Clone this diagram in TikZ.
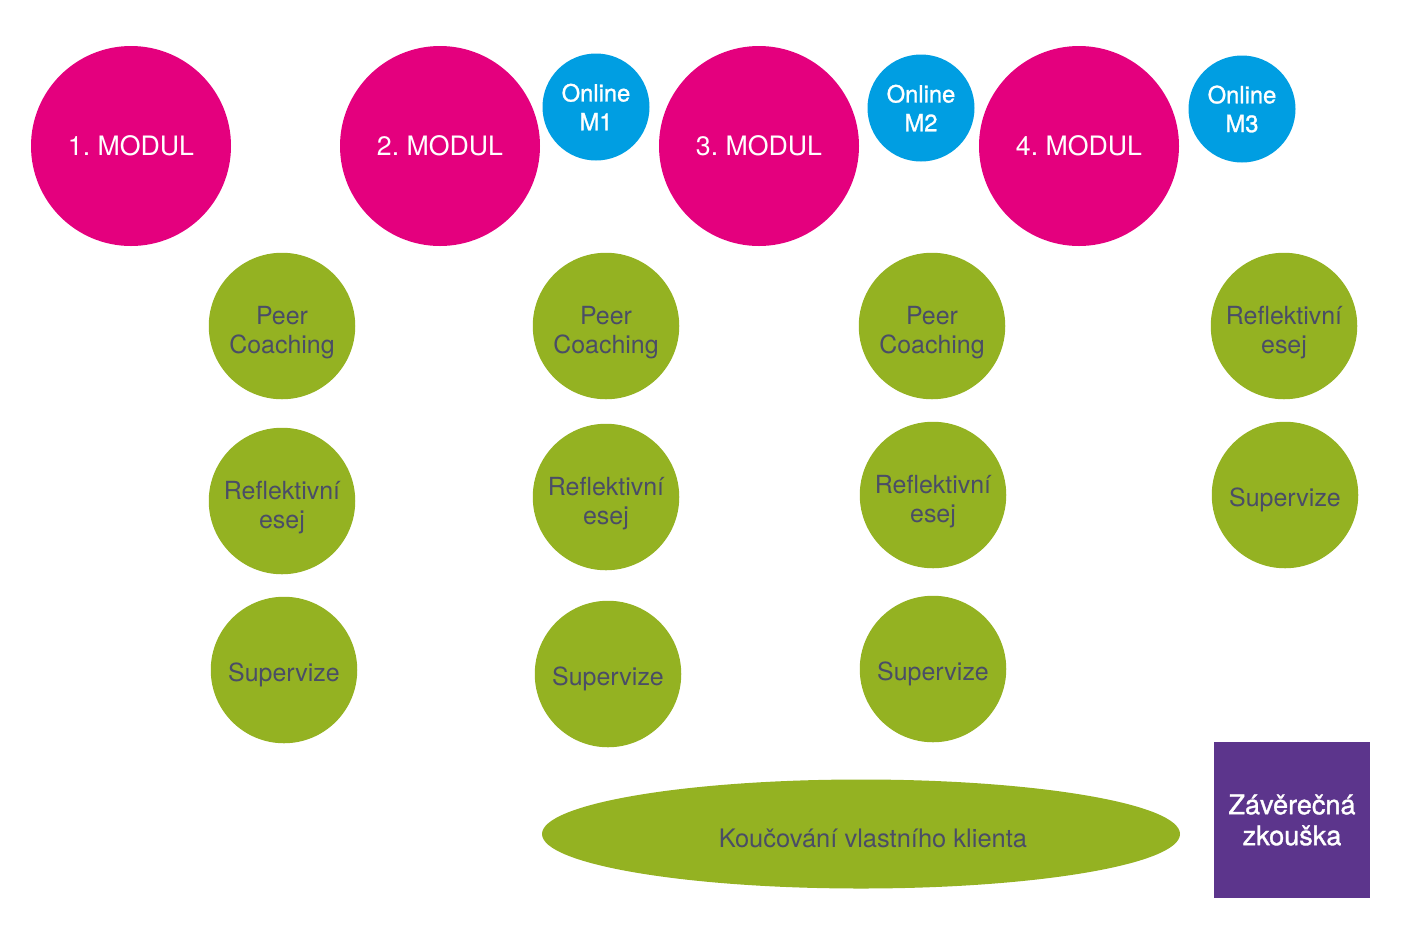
\documentclass[tikz,border=0pt]{standalone}
\usepackage{fontspec}
\setmainfont{TeX Gyre Heros}
\newfontfamily\polotucne[FakeBold=1.2]{TeX Gyre Heros}
\usepackage{xcolor}
\usepackage{tikz}
\usetikzlibrary{shapes.geometric}
\frenchspacing
\definecolor{Ruzova}  {RGB}{228,  0,126}
\definecolor{Modra}   {RGB}{  0,158,226}
\definecolor{Zelena}  {RGB}{148,178, 34}
\definecolor{Fialova} {RGB}{ 92, 53,140}
\definecolor{Sedomodra}{RGB}{ 74, 77,102}

\begin{document}
\begin{tikzpicture}[
      modul/.style ={circle,fill=Ruzova,text=white,inner sep=0pt,
                     minimum size=4cm,font=\fontsize{15.2}{17}\selectfont},
      online/.style={circle,fill=Modra,text=white,inner sep=0pt,align=center,
                     minimum size=2.14cm,font=\polotucne\fontsize{13.5}{16.4}\selectfont},
      ukol/.style  ={circle,fill=Zelena,text=Sedomodra,inner sep=0pt,align=center,
                     minimum size=2.93cm,font=\fontsize{14.2}{16.4}\selectfont,
                     execute at begin node={\rule{0pt}{16pt}}},
      dvoj/.style  ={ukol,text height=34.6pt,text depth=3pt},
      klient/.style={ellipse,fill=Zelena,text=Sedomodra,inner sep=0pt,
                     minimum width=12.76cm,minimum height=2.18cm,
                     font=\fontsize{14.5}{17}\selectfont,
                     execute at begin node={\hspace*{13.6pt}\rule{0pt}{15pt}}},
      zkouska/.style={rectangle,fill=Fialova,text=white,inner sep=0pt,align=center,
                     minimum size=3.12cm,font=\polotucne\fontsize{15.4}{17.6}\selectfont}]
      \useasboundingbox (0,0) rectangle (28.34,-18.78);
      % moduly
      \node[modul]  (mod1) at ( 2.62,-2.92){1. MODUL};
      \node[modul]  (mod2) at ( 8.80,-2.92){2. MODUL};
      \node[modul]  (mod3) at (15.18,-2.92){3. MODUL};
      \node[modul]  (mod4) at (21.58,-2.92){4. MODUL};
      % online
      \node[online] (on1)  at (11.92,-2.14){Online\\M1};
      \node[online] (on2)  at (18.42,-2.16){Online\\M2};
      \node[online] (on3)  at (24.84,-2.18){Online\\M3};
      % ukoly mezi moduly
      \node[dvoj]   (pc1)  at ( 5.64,-6.52){Peer\\Coaching};
      \node[dvoj]   (re1)  at ( 5.64,-10.02){Reflektivní\\esej};
      \node[ukol]   (sup1) at ( 5.68,-13.40){Supervize};
      \node[dvoj]   (pc2)  at (12.12,-6.52){Peer\\Coaching};
      \node[dvoj]   (re2)  at (12.12,-9.94){Reflektivní\\esej};
      \node[ukol]   (sup2) at (12.16,-13.48){Supervize};
      \node[dvoj]   (pc3)  at (18.64,-6.52){Peer\\Coaching};
      \node[dvoj]   (re3)  at (18.66,-9.90){Reflektivní\\esej};
      \node[ukol]   (sup3) at (18.66,-13.38){Supervize};
      \node[dvoj]   (re4)  at (25.68,-6.52){Reflektivní\\esej};
      \node[ukol]   (sup4) at (25.70,-9.90){Supervize};
      % konec
      \node[klient] (kouc) at (17.22,-16.68){Koučování vlastního klienta};
      \node[zkouska] (zav) at (25.84,-16.40){Závěrečná\\zkouška};
    \end{tikzpicture}
\end{document}
